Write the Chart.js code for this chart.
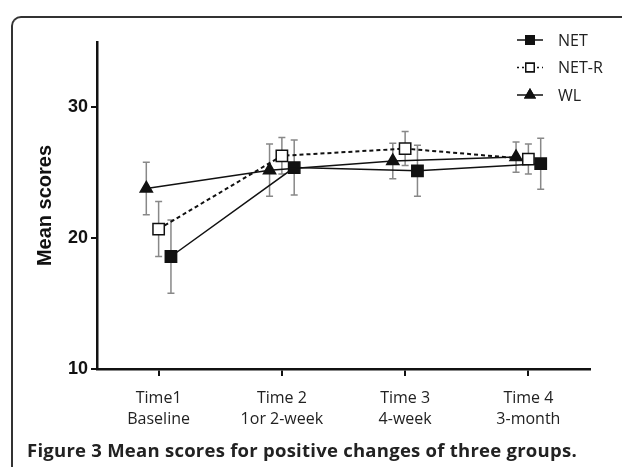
<!DOCTYPE html>
<html>
<head>
<meta charset="utf-8">
<script src="https://cdn.jsdelivr.net/npm/chart.js@4.4.1/dist/chart.umd.min.js"></script>
<style>
  html, body { margin: 0; padding: 0; background: #fff; }
  body { width: 622px; height: 468px; position: relative; overflow: hidden; }
  #frame {
    position: absolute; left: 11px; top: 16px; width: 640px; height: 449px;
    border-top: 2px solid #333; border-left: 2px solid #333;
    border-top-left-radius: 10px;
  }
  #chart { position: absolute; left: 0; top: 0; }
  #caption {
    position: absolute; left: 27px; top: 437px;
    font-family: "Open Sans", sans-serif; font-weight: 700; font-size: 18.5px;
    color: #222; white-space: nowrap; letter-spacing: 0.25px;
  }
</style>
</head>
<body>
<div id="frame"></div>
<canvas id="chart" width="622" height="468"></canvas>
<div id="caption">Figure 3 Mean scores for positive changes of three groups.</div>
<script>
// ---------- Data ----------
const timeLabels = [['Time1', 'Baseline'], ['Time 2', '1or 2-week'], ['Time 3', '4-week'], ['Time 4', '3-month']];
const timePoints = [1, 2, 3, 4];
const yTicks = [10, 20, 30];

const netMean = [18.6, 25.4, 25.15, 25.7];
const netErr = [2.8, 2.1, 1.95, 1.95];
const netrMean = [20.7, 26.3, 26.85, 26.05];
const netrErr = [2.1, 1.4, 1.3, 1.15];
const wlMean = [23.8, 25.2, 25.9, 26.2];
const wlErr = [2.0, 2.0, 1.35, 1.15];

// ---------- Helpers ----------
// small horizontal shift per group so the markers don't overlap
function series(means, shift) {
  return means.map((v, i) => ({ x: timePoints[i] + shift, y: v }));
}

const errors = [wlErr, netrErr, netErr];

// error bars, drawn under the markers
const errorBars = {
  id: 'errorBars',
  beforeDatasetsDraw(chart) {
    const { ctx, scales: { x, y } } = chart;
    ctx.save();
    ctx.strokeStyle = '#888';
    ctx.lineWidth = 1.5;
    chart.data.datasets.forEach((ds, di) => {
      ds.data.forEach((p, i) => {
        const px = x.getPixelForValue(p.x);
        const top = y.getPixelForValue(p.y + errors[di][i]);
        const bot = y.getPixelForValue(p.y - errors[di][i]);
        ctx.beginPath();
        ctx.moveTo(px, top); ctx.lineTo(px, bot);
        ctx.moveTo(px - 3.5, top); ctx.lineTo(px + 3.5, top);
        ctx.moveTo(px - 3.5, bot); ctx.lineTo(px + 3.5, bot);
        ctx.stroke();
      });
    });
    ctx.restore();
  }
};

// legend: line sample with the marker in the middle
const lineLegend = {
  id: 'lineLegend',
  afterDraw(chart) {
    const { ctx, chartArea } = chart;
    const order = [2, 1, 0]; // NET, NET-R, WL
    ctx.save();
    order.forEach((di, row) => {
      const ds = chart.data.datasets[di];
      const y = 40 + row * 27.5;
      const x0 = chartArea.right - 73;
      ctx.strokeStyle = '#111';
      ctx.lineWidth = 1.5;
      ctx.setLineDash(ds.borderDash && ds.borderDash.length ? [2, 3] : []);
      ctx.beginPath();
      ctx.moveTo(x0, y); ctx.lineTo(x0 + 26, y);
      ctx.stroke();
      ctx.setLineDash([]);
      Chart.helpers.drawPoint(ctx, {
        pointStyle: ds.pointStyle, radius: ds.pointStyle === 'triangle' ? 5.5 : 6,
        borderWidth: 1.5
      }, x0 + 13, y);
      ctx.fillStyle = ds.pointBackgroundColor;
      ctx.strokeStyle = '#111';
      ctx.fill();
      ctx.stroke();
      ctx.fillStyle = '#222';
      ctx.font = '16px "Open Sans"';
      ctx.textBaseline = 'middle';
      ctx.fillText(ds.label, x0 + 41, y + 1);
    });
    ctx.restore();
  }
};

// ---------- Chart ----------
const chart = new Chart(document.getElementById('chart'), {
  type: 'line',
  data: {
    datasets: [
      {
        label: 'WL', data: series(wlMean, -0.1),
        borderColor: '#111', borderWidth: 1.5,
        pointStyle: 'triangle', pointRadius: 7, pointBackgroundColor: '#111', pointBorderColor: '#111'
      },
      {
        label: 'NET-R', data: series(netrMean, 0),
        borderColor: '#111', borderWidth: 2, borderDash: [4, 3],
        pointStyle: 'rect', pointRadius: 8, pointBackgroundColor: '#fff', pointBorderColor: '#111', pointBorderWidth: 1.5
      },
      {
        label: 'NET', data: series(netMean, 0.1),
        borderColor: '#111', borderWidth: 1.5,
        pointStyle: 'rect', pointRadius: 8, pointBackgroundColor: '#111', pointBorderColor: '#111'
      }
    ]
  },
  options: {
    responsive: false,
    animation: false,
    devicePixelRatio: 1,
    layout: { padding: { left: 33, top: 42, right: 32, bottom: 39 } },
    plugins: { legend: { display: false }, tooltip: { enabled: false } },
    scales: {
      x: {
        type: 'linear', min: 0.5, max: 4.5,
        afterBuildTicks: (s) => { s.ticks = timePoints.map(v => ({ value: v })); },
        afterFit: (s) => { s.height = 60; },
        border: { color: '#111', width: 2.5 },
        grid: { drawOnChartArea: false, color: '#111', lineWidth: 2, tickLength: 7 },
        ticks: {
          color: '#222', padding: 12, maxRotation: 0,
          font: { family: 'Open Sans', size: 16, lineHeight: 1.3 },
          callback: (v) => timeLabels[timePoints.indexOf(v)]
        }
      },
      y: {
        min: 10, max: 35,
        afterBuildTicks: (s) => { s.ticks = yTicks.map(v => ({ value: v })); },
        afterFit: (s) => { s.width = 64; },
        border: { color: '#111', width: 2.5 },
        grid: { drawOnChartArea: false, color: '#111', lineWidth: 2, tickLength: 6 },
        ticks: {
          color: '#111', padding: 3,
          font: { family: 'Liberation Sans', size: 18, weight: 'bold' }
        },
        title: {
          display: true, text: 'Mean scores', color: '#111', padding: 0,
          font: { family: 'Liberation Sans', size: 20, weight: 'bold' }
        }
      }
    }
  },
  plugins: [errorBars, lineLegend]
});
</script>
</body>
</html>
